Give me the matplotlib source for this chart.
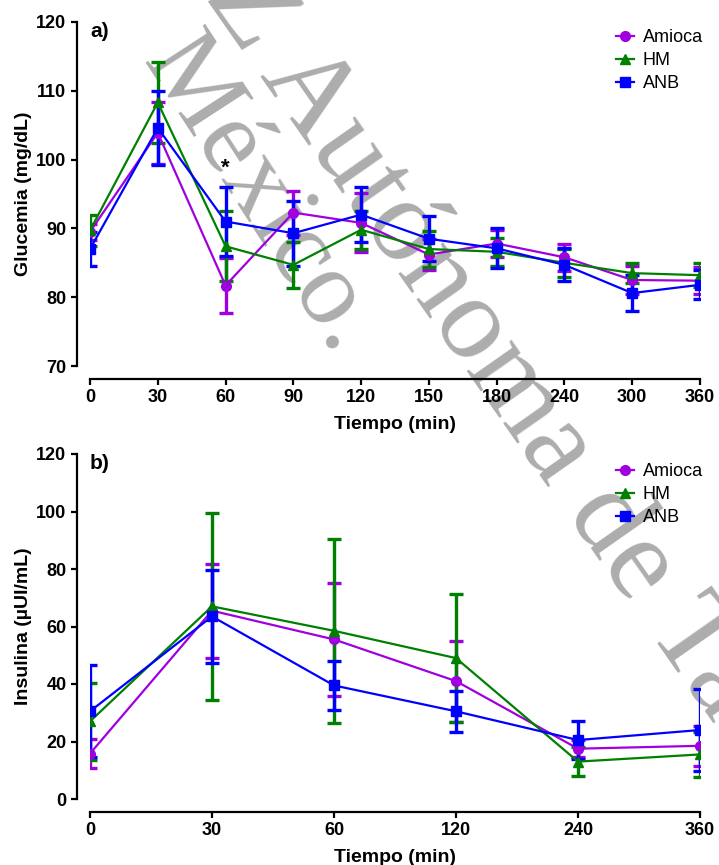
import numpy as np
import matplotlib
matplotlib.use('Agg')
from matplotlib import pyplot as plt

# data (mean +/- SEM)
glu_times = ['0', '30', '60', '90', '120', '150', '180', '240', '300', '360']
amioca_glu = [89.5, 103.9, 81.7, 92.3, 90.8, 86.2, 87.8, 85.8, 82.5, 82.4]
amioca_glu_err = [1.2, 4.5, 4.0, 3.2, 4.3, 2.3, 2.0, 2.0, 2.0, 2.0]
hm_glu = [89.7, 108.3, 87.4, 84.7, 89.8, 87.0, 86.6, 85.0, 83.5, 83.2]
hm_glu_err = [2.3, 5.9, 5.1, 3.3, 2.8, 2.6, 2.0, 2.0, 1.5, 1.7]
anb_glu = [87.0, 104.6, 91.0, 89.3, 92.0, 88.5, 87.1, 84.7, 80.6, 81.8]
anb_glu_err = [2.5, 5.4, 5.0, 4.7, 4.0, 3.3, 2.9, 2.4, 2.6, 2.1]

ins_times = ['0', '30', '60', '120', '240', '360']
amioca_ins = [15.8, 65.5, 55.5, 41.0, 17.5, 18.5]
amioca_ins_err = [5.0, 16.3, 19.8, 14.1, 3.0, 7.0]
hm_ins = [27.0, 67.0, 58.5, 49.0, 13.0, 15.5]
hm_ins_err = [13.5, 32.6, 32.0, 22.2, 5.0, 7.8]
anb_ins = [30.5, 63.5, 39.5, 30.5, 20.5, 24.0]
anb_ins_err = [16.0, 16.2, 8.5, 7.1, 6.6, 14.2]

groups = ['Amioca', 'HM', 'ANB']
colors = ['#A000E0', '#008000', '#0000FF']
markers = ['o', '^', 's']

plt.rcParams['font.family'] = ['Liberation Sans', 'DejaVu Sans']

W, H = 719, 865
fig = plt.figure(figsize=(W/100, H/100), dpi=100)

def px_axes(l, t, r, b):
    return fig.add_axes([l/W, 1-b/H, (r-l)/W, (b-t)/H])

ax1 = px_axes(90, 22, 700, 366)
ax2 = px_axes(90, 454, 700, 799)

def draw(ax, times, series, errs, ylim, yticks, ylabel, tag, leg_y):
    x = np.arange(len(times))
    for name, y, e, c, m in zip(groups, series, errs, colors, markers):
        ax.errorbar(x, y, yerr=e, color=c, marker=m, ms=7, lw=1.6,
                    elinewidth=2.4, capsize=5, capthick=2.4, label=name)
    ax.set_xlim(0, len(times)-1)
    ax.set_ylim(*ylim)
    ax.set_xticks(x)
    ax.set_xticklabels(times)
    ax.set_yticks(yticks)
    for s in ['top', 'right']:
        ax.spines[s].set_visible(False)
    ax.spines['left'].set_position(('outward', 9.5))
    ax.spines['bottom'].set_position(('outward', 9))
    for s in ['left', 'bottom']:
        ax.spines[s].set_linewidth(1.6)
    ax.tick_params(width=1.6, length=4.5, labelsize=13, pad=3)
    for lab in ax.get_xticklabels() + ax.get_yticklabels():
        lab.set_fontweight('bold')
    ax.set_xlabel('Tiempo (min)', fontsize=14, fontweight='bold', labelpad=7)
    ax.set_ylabel(ylabel, fontsize=14, fontweight='bold', labelpad=3)
    ax.text(0.0, 1.0, tag, transform=ax.transAxes, fontsize=15,
            fontweight='bold', ha='left', va='top')
    ax.patch.set_visible(False)
    h, l = ax.get_legend_handles_labels()
    h = [hh[0] for hh in h]
    ax.legend(h, l, loc='upper left', bbox_to_anchor=(0.85, leg_y),
              frameon=False, fontsize=13, handlelength=1.0,
              handletextpad=0.5, labelspacing=0.33, borderaxespad=0)

draw(ax1, glu_times, [amioca_glu, hm_glu, anb_glu],
     [amioca_glu_err, hm_glu_err, anb_glu_err],
     (70, 120), np.arange(70, 121, 10), 'Glucemia (mg/dL)', 'a)', 1.0)
ax1.text(2, 97.2, '*', ha='center', va='bottom', fontsize=16, fontweight='bold')

draw(ax2, ins_times, [amioca_ins, hm_ins, anb_ins],
     [amioca_ins_err, hm_ins_err, anb_ins_err],
     (0, 120), np.arange(0, 121, 20), 'Insulina (µUI/mL)', 'b)', 0.995)

# watermark
wm = dict(color='#ADADAD', family='Liberation Serif',
          rotation_mode='anchor', ha='left', va='baseline', zorder=-5)
fig.text(204/W, 1+4/H, 'Z Autónoma de Tabasco', fontsize=86, rotation=-55, **wm)
fig.text(142/W, 1-62/H, 'México.', fontsize=77, rotation=-57, **wm)

fig.savefig('out.png', dpi=100, facecolor='white')
